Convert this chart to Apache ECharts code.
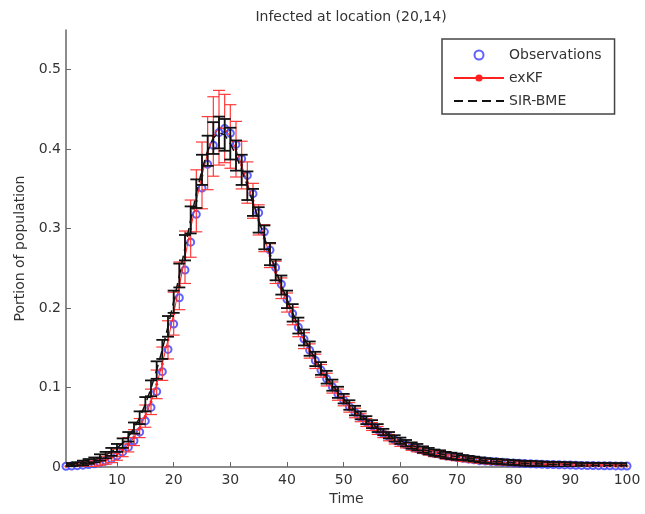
<!DOCTYPE html>
<html>
<head>
<meta charset="utf-8">
<script src="https://cdn.jsdelivr.net/npm/echarts@6/dist/echarts.min.js"></script>
<style>
html,body{margin:0;padding:0;background:#fff;}
#main{width:645px;height:514px;}
</style>
</head>
<body>
<div id="main"></div>
<script type="text/javascript">
// time steps 1..100
const times = Array.from({length: 100}, (_, i) => i + 1);

const observations = [
	0.001,0.0013,0.0017,0.0023,0.003,0.004,0.0055,0.0075,0.010,0.014,
	0.019,0.025,0.033,0.044,0.058,0.075,0.095,0.120,0.148,0.180,
	0.213,0.248,0.283,0.318,0.351,0.381,0.405,0.421,0.426,0.420,
	0.406,0.388,0.367,0.344,0.320,0.296,0.273,0.251,0.230,0.211,
	0.193,0.176,0.161,0.147,0.134,0.122,0.111,0.101,0.092,0.084,
	0.076,0.069,0.063,0.057,0.052,0.047,0.042,0.038,0.034,0.031,
	0.028,0.025,0.023,0.021,0.019,0.017,0.016,0.014,0.013,0.012,
	0.011,0.010,0.009,0.008,0.0075,0.007,0.0065,0.006,0.0055,0.005,
	0.0047,0.0044,0.0041,0.0038,0.0035,0.0032,0.003,0.0028,0.0026,0.0024,
	0.0022,0.002,0.0019,0.0018,0.0017,0.0016,0.0015,0.0014,0.0013,0.0012
];

const exkfMean = [
	0.001,0.0015,0.002,0.0027,0.0035,0.0047,0.0063,0.0085,0.0115,0.0155,
	0.021,0.028,0.037,0.049,0.064,0.082,0.104,0.130,0.160,0.193,
	0.228,0.264,0.300,0.335,0.367,0.395,0.416,0.427,0.426,0.416,
	0.400,0.380,0.358,0.335,0.311,0.288,0.266,0.245,0.225,0.207,
	0.190,0.174,0.159,0.146,0.133,0.121,0.110,0.100,0.091,0.083,
	0.075,0.068,0.062,0.056,0.051,0.046,0.041,0.037,0.033,0.030,
	0.027,0.024,0.022,0.020,0.018,0.016,0.015,0.013,0.012,0.011,
	0.010,0.0095,0.0085,0.0078,0.0072,0.0066,0.0061,0.0056,0.0052,0.0048,
	0.0045,0.0042,0.0039,0.0036,0.0033,0.0031,0.0029,0.0027,0.0025,0.0023,
	0.0021,0.002,0.0019,0.0018,0.0017,0.0016,0.0015,0.0014,0.0013,0.0012
];
const exkfErr = [
	0.002,0.002,0.002,0.003,0.003,0.004,0.004,0.005,0.006,0.007,
	0.008,0.009,0.010,0.012,0.014,0.016,0.018,0.021,0.024,0.027,
	0.030,0.033,0.036,0.039,0.042,0.046,0.050,0.047,0.043,0.040,
	0.035,0.030,0.026,0.022,0.019,0.017,0.015,0.014,0.013,0.012,
	0.011,0.010,0.010,0.009,0.009,0.008,0.008,0.007,0.007,0.006,
	0.006,0.006,0.005,0.005,0.005,0.005,0.004,0.004,0.004,0.004,
	0.003,0.003,0.003,0.003,0.003,0.003,0.003,0.003,0.003,0.003,
	0.003,0.003,0.003,0.003,0.003,0.003,0.003,0.003,0.003,0.003,
	0.002,0.002,0.002,0.002,0.002,0.002,0.002,0.002,0.002,0.002,
	0.002,0.002,0.002,0.002,0.002,0.002,0.002,0.002,0.002,0.002
];

const sirMean = [
	0.002,0.003,0.004,0.005,0.007,0.009,0.012,0.015,0.019,0.024,
	0.030,0.038,0.049,0.062,0.079,0.099,0.122,0.148,0.177,0.208,
	0.241,0.276,0.311,0.344,0.374,0.398,0.414,0.421,0.418,0.407,
	0.392,0.374,0.354,0.333,0.311,0.289,0.268,0.248,0.229,0.211,
	0.194,0.178,0.163,0.149,0.136,0.124,0.113,0.103,0.094,0.086,
	0.078,0.071,0.065,0.059,0.054,0.049,0.044,0.040,0.036,0.033,
	0.030,0.027,0.025,0.022,0.020,0.018,0.017,0.015,0.014,0.013,
	0.012,0.011,0.010,0.009,0.008,0.0075,0.007,0.0065,0.006,0.0055,
	0.005,0.0047,0.0044,0.0041,0.0038,0.0035,0.0033,0.0031,0.0029,0.0027,
	0.0025,0.0023,0.0022,0.0021,0.002,0.0019,0.0018,0.0017,0.0016,0.0015
];
const sirErr = [
	0.002,0.002,0.002,0.003,0.003,0.003,0.004,0.004,0.005,0.005,
	0.006,0.006,0.007,0.008,0.009,0.010,0.011,0.012,0.013,0.014,
	0.015,0.016,0.017,0.018,0.019,0.019,0.020,0.020,0.020,0.020,
	0.019,0.019,0.018,0.017,0.016,0.015,0.014,0.013,0.012,0.011,
	0.011,0.010,0.010,0.009,0.009,0.008,0.008,0.007,0.007,0.006,
	0.006,0.006,0.005,0.005,0.005,0.005,0.004,0.004,0.004,0.004,
	0.004,0.004,0.004,0.004,0.004,0.004,0.004,0.004,0.004,0.004,
	0.003,0.003,0.003,0.003,0.003,0.003,0.003,0.003,0.003,0.003,
	0.003,0.003,0.003,0.003,0.003,0.003,0.003,0.003,0.003,0.003,
	0.003,0.003,0.003,0.003,0.003,0.003,0.003,0.003,0.003,0.003
];

const xTicks = [10,20,30,40,50,60,70,80,90,100];
const yTicks = [0,0.1,0.2,0.3,0.4,0.5];

const FONT = "DejaVu Sans";

function pairs(ys){
	return times.map((t,i)=>[t,ys[i]]);
}
function bars(mean,err){
	return times.map((t,i)=>[t,mean[i]-err[i],mean[i]+err[i]]);
}
// vertical error bar with caps, MATLAB style
function errorBar(color,width){
	return function(params,api){
		const x=api.value(0);
		const lo=api.coord([x,api.value(1)]), hi=api.coord([x,api.value(2)]);
		const w=6;
		const st={stroke:color,lineWidth:width};
		return {type:'group',children:[
			{type:'line',shape:{x1:lo[0],y1:lo[1],x2:hi[0],y2:hi[1]},style:st},
			{type:'line',shape:{x1:lo[0]-w,y1:lo[1],x2:lo[0]+w,y2:lo[1]},style:st},
			{type:'line',shape:{x1:hi[0]-w,y1:hi[1],x2:hi[0]+w,y2:hi[1]},style:st}
		]};
	};
}

var myChart = echarts.init(document.getElementById('main'));
var option = {
	animation:false,
	backgroundColor:'#fff',
	textStyle:{fontFamily:FONT},
	title:{
		text:'Infected at location (20,14)',
		left:346, top:5, textAlign:'center',
		textStyle:{fontFamily:FONT,fontSize:14,fontWeight:'normal',color:'#333'}
	},
	legend:{
		data:[
			'Observations',
			'exKF',
			{name:'SIR-BME',itemStyle:{opacity:0}}
		],
		orient:'vertical',
		left:442, top:39,
		padding:[9,13,6,11],
		itemGap:9,
		itemWidth:50, itemHeight:9,
		borderColor:'#444', borderWidth:1.5,
		backgroundColor:'#fff',
		textStyle:{fontFamily:FONT,fontSize:14,color:'#333'}
	},
	grid:{left:66,right:18,top:30,bottom:47},
	xAxis:{
		type:'value', min:1, max:100,
		name:'Time', nameLocation:'middle', nameGap:25,
		nameTextStyle:{fontFamily:FONT,fontSize:14,color:'#333'},
		axisLine:{lineStyle:{color:'#666',width:1.5}},
		axisTick:{inside:true,length:5,customValues:xTicks,lineStyle:{color:'#666'}},
		axisLabel:{customValues:xTicks,fontFamily:FONT,fontSize:14,color:'#333',margin:6},
		splitLine:{show:false}
	},
	yAxis:{
		type:'value', min:0, max:0.55,
		name:'Portion of population', nameLocation:'middle', nameGap:36,
		nameTextStyle:{fontFamily:FONT,fontSize:14,color:'#333'},
		axisLine:{show:true,lineStyle:{color:'#666',width:1.5}},
		axisTick:{show:true,inside:true,length:5,customValues:yTicks,lineStyle:{color:'#666'}},
		axisLabel:{customValues:yTicks,fontFamily:FONT,fontSize:14,color:'#333',margin:5},
		splitLine:{show:false}
	},
	series:[
		{
			name:'Observations', type:'scatter',
			data:pairs(observations),
			symbol:'emptyCircle', symbolSize:7,
			itemStyle:{color:'#3a3aff',borderWidth:1.2},
			z:2
		},
		{
			name:'exKF bars', type:'custom',
			renderItem:errorBar('#ff3a3a',1.2),
			data:bars(exkfMean,exkfErr),
			clip:true, z:3
		},
		{
			name:'exKF', type:'line',
			data:pairs(exkfMean),
			symbol:'circle', symbolSize:3, showSymbol:true,
			itemStyle:{color:'#ff2020'},
			lineStyle:{color:'#ff2020',width:1},
			z:4
		},
		{
			name:'SIR-BME bars', type:'custom',
			renderItem:errorBar('#111',1.8),
			data:bars(sirMean,sirErr),
			clip:true, z:5
		},
		{
			name:'SIR-BME', type:'line',
			data:pairs(sirMean),
			symbol:'none',
			itemStyle:{color:'#111'},
			lineStyle:{color:'#111',width:1.5,type:[9,5]},
			z:6
		}
	]
};
myChart.setOption(option);
window.addEventListener('resize', function() {
	myChart.resize();
});
</script>
</body>
</html>
